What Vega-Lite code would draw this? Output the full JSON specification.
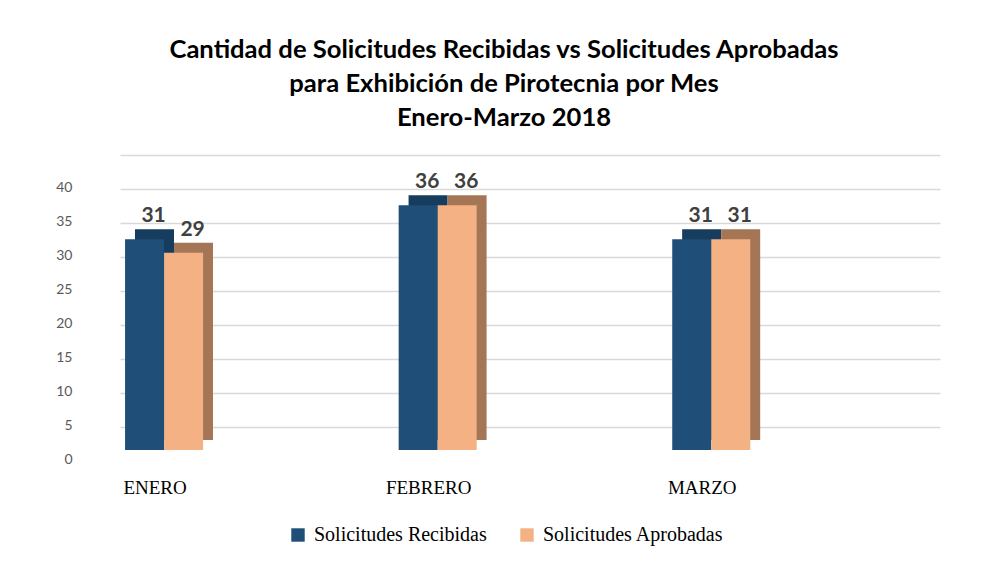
{
  "$schema": "https://vega.github.io/schema/vega-lite/v6.json",
  "width": 820,
  "height": 272,
  "autosize": "none",
  "padding": {"left": 120, "top": 178, "right": 46, "bottom": 111},
  "background": "white",
  "config": {"view": {"stroke": null}},
  "data": {
    "values": [
      {"mes": "ENERO", "serie": "Solicitudes Recibidas", "valor": 31},
      {"mes": "ENERO", "serie": "Solicitudes Aprobadas", "valor": 29},
      {"mes": "FEBRERO", "serie": "Solicitudes Recibidas", "valor": 36},
      {"mes": "FEBRERO", "serie": "Solicitudes Aprobadas", "valor": 36},
      {"mes": "MARZO", "serie": "Solicitudes Recibidas", "valor": 31},
      {"mes": "MARZO", "serie": "Solicitudes Aprobadas", "valor": 31}
    ]
  },
  "title": {
    "text": ["Cantidad de Solicitudes Recibidas vs Solicitudes Aprobadas", "para Exhibición de Pirotecnia por Mes", "Enero-Marzo 2018"],
    "anchor": "middle",
    "font": "Lato",
    "fontSize": 25.6,
    "fontWeight": "bold",
    "color": "black",
    "lineHeight": 34,
    "offset": 40,
    "dx": -26
  },
  "encoding": {
    "x": {
      "field": "mes",
      "type": "nominal",
      "sort": ["ENERO", "FEBRERO", "MARZO"],
      "scale": {"paddingInner": 0.7148, "paddingOuter": 0.356, "align": 0.026},
      "axis": {
        "title": null,
        "labelAngle": 0,
        "domain": false,
        "ticks": false,
        "labelFont": "Liberation Serif",
        "labelFontSize": 19,
        "labelColor": "black",
        "labelPadding": 28,
        "labelOffset": -9
      }
    },
    "xOffset": {
      "field": "serie",
      "type": "nominal",
      "sort": ["Solicitudes Recibidas", "Solicitudes Aprobadas"],
      "scale": {"paddingInner": 0, "paddingOuter": 0}
    },
    "y": {
      "field": "valor",
      "type": "quantitative",
      "scale": {"domain": [0, 40]},
      "axis": {
        "title": null,
        "values": [0, 5, 10, 15, 20, 25, 30, 35, 40],
        "grid": true,
        "gridColor": "#d9d9d9",
        "gridWidth": 1.5,
        "domain": false,
        "ticks": false,
        "tickOffset": -23,
        "labelOffset": 32,
        "labelPadding": 48,
        "labelFont": "Lato",
        "labelFontSize": 14,
        "labelColor": "#595959"
      }
    }
  },
  "layer": [
    {
      "mark": {"type": "bar", "yOffset": -10},
      "encoding": {
        "x": {
          "field": "mes",
          "type": "nominal",
          "sort": ["ENERO", "FEBRERO", "MARZO"],
          "scale": {"paddingInner": 0.7148, "paddingOuter": 0.356, "align": 0.0769},
          "axis": null
        },
        "color": {
          "field": "serie",
          "type": "nominal",
          "sort": ["Solicitudes Recibidas", "Solicitudes Aprobadas"],
          "scale": {"domain": ["Solicitudes Recibidas", "Solicitudes Aprobadas"], "range": ["#163C5E", "#A57656"]},
          "legend": null
        }
      }
    },
    {
      "layer": [
        {
          "mark": {"type": "bar"},
          "encoding": {
            "fill": {
              "field": "serie",
              "type": "nominal",
              "sort": ["Solicitudes Recibidas", "Solicitudes Aprobadas"],
              "scale": {"domain": ["Solicitudes Recibidas", "Solicitudes Aprobadas"], "range": ["#1F4E79", "#F4B183"]},
              "legend": {
                "orient": "none",
                "legendX": 168,
                "legendY": 347,
                "direction": "horizontal",
                "title": null,
                "symbolType": "square",
                "symbolSize": 180,
                "symbolStrokeWidth": 0,
                "labelFont": "Liberation Serif",
                "labelFontSize": 20,
                "labelColor": "black",
                "labelOffset": 6,
                "labelLimit": 0,
                "columnPadding": 30
              }
            }
          }
        },
        {
          "mark": {"type": "text", "dy": -17, "dx": 9, "baseline": "alphabetic", "font": "Lato", "fontWeight": "bold", "fontSize": 21, "color": "#404040"},
          "encoding": {"text": {"field": "valor", "type": "quantitative"}}
        }
      ]
    }
  ],
  "resolve": {"scale": {"color": "independent", "x": "independent", "xOffset": "independent"}, "axis": {"x": "independent"}}
}
